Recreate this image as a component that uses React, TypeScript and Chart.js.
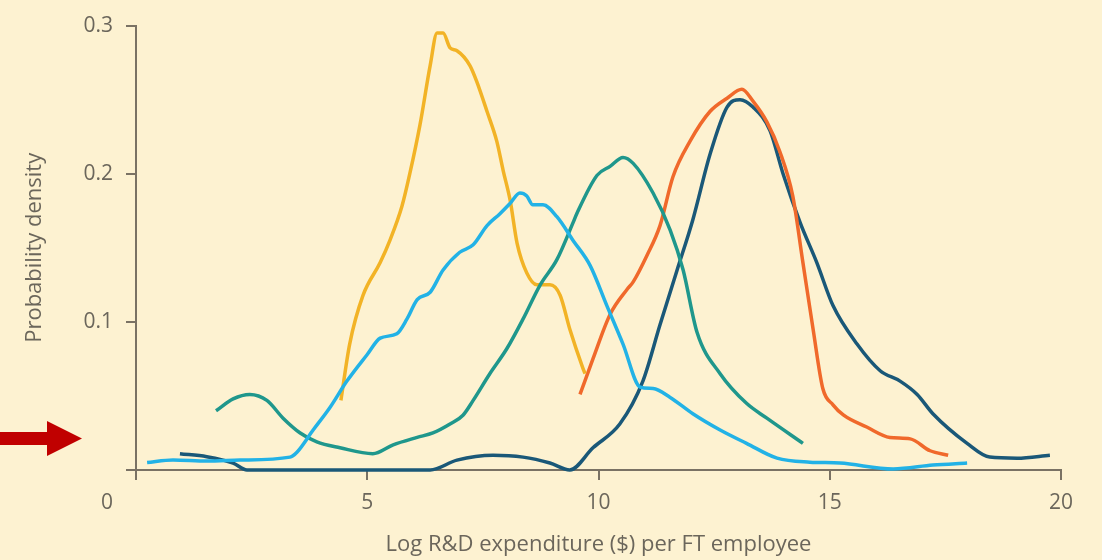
import React, { useEffect, useRef } from 'react';
import { Chart, registerables } from 'chart.js';

Chart.register(...registerables);

// ---- data ----
const yellowX = [4.43, 4.62, 4.91, 5.28, 5.49, 5.75, 5.92, 6.14, 6.36, 6.51, 6.64, 6.79, 6.94, 7.22, 7.37, 7.59, 7.8, 7.94, 8.09, 8.24, 8.45, 8.67, 8.95, 9.17, 9.38, 9.66, 9.71];
const yellowY = [0.047, 0.085, 0.118, 0.14, 0.155, 0.178, 0.2, 0.233, 0.273, 0.295, 0.295, 0.285, 0.283, 0.273, 0.262, 0.242, 0.222, 0.202, 0.182, 0.153, 0.133, 0.125, 0.125, 0.118, 0.095, 0.069, 0.065];

const lightBlueX = [0.24, 0.8, 1.53, 2.25, 3.33, 3.48, 3.83, 4.19, 4.56, 5.0, 5.28, 5.64, 5.86, 6.08, 6.36, 6.64, 7.0, 7.29, 7.59, 7.87, 8.09, 8.3, 8.45, 8.58, 8.8, 9.1, 9.45, 9.82, 10.18, 10.53, 10.9, 11.18, 11.55, 12.04, 12.63, 13.2, 13.86, 14.57, 15.22, 16.37, 17.23, 17.97];
const lightBlueY = [0.005, 0.0067, 0.006, 0.0067, 0.0087, 0.012, 0.027, 0.042, 0.06, 0.078, 0.089, 0.092, 0.102, 0.115, 0.12, 0.135, 0.147, 0.152, 0.165, 0.173, 0.18, 0.187, 0.185, 0.179, 0.179, 0.171, 0.155, 0.138, 0.111, 0.085, 0.056, 0.055, 0.049, 0.038, 0.027, 0.018, 0.008, 0.0053, 0.0047, 0.0007, 0.0033, 0.0047];

const tealX = [1.73, 2.1, 2.46, 2.83, 3.18, 3.55, 3.91, 4.41, 5.12, 5.56, 6.08, 6.42, 6.79, 7.07, 7.29, 7.65, 8.02, 8.37, 8.74, 9.1, 9.45, 9.53, 9.97, 10.25, 10.53, 10.75, 11.18, 11.55, 11.83, 12.13, 12.63, 13.2, 13.64, 14.42];
const tealY = [0.04, 0.048, 0.051, 0.047, 0.035, 0.025, 0.019, 0.015, 0.011, 0.017, 0.022, 0.025, 0.031, 0.037, 0.047, 0.065, 0.082, 0.102, 0.125, 0.142, 0.167, 0.173, 0.199, 0.205, 0.211, 0.207, 0.187, 0.162, 0.135, 0.093, 0.065, 0.045, 0.035, 0.018];

const orangeX = [9.6, 9.88, 10.25, 10.62, 10.75, 11.05, 11.33, 11.61, 11.98, 12.41, 12.78, 13.1, 13.34, 13.64, 13.92, 14.2, 14.42, 14.64, 14.85, 15.07, 15.3, 15.8, 16.3, 16.74, 17.17, 17.56];
const orangeY = [0.051, 0.075, 0.105, 0.122, 0.127, 0.145, 0.165, 0.198, 0.222, 0.242, 0.251, 0.257, 0.249, 0.235, 0.215, 0.185, 0.14, 0.095, 0.055, 0.044, 0.037, 0.029, 0.022, 0.021, 0.013, 0.01];

const darkBlueX = [0.95, 1.53, 2.1, 2.4, 6.36, 6.94, 7.72, 8.37, 8.95, 9.38, 9.88, 10.46, 10.96, 11.33, 11.7, 12.04, 12.41, 12.78, 13.06, 13.34, 13.71, 13.99, 14.36, 14.72, 15.07, 15.59, 16.09, 16.52, 16.89, 17.23, 17.97, 18.46, 19.05, 19.76];
const darkBlueY = [0.011, 0.009, 0.0047, 0, 0, 0.0067, 0.01, 0.0087, 0.0047, 0, 0.015, 0.031, 0.06, 0.098, 0.135, 0.169, 0.213, 0.245, 0.25, 0.245, 0.229, 0.2, 0.167, 0.14, 0.111, 0.085, 0.067, 0.06, 0.051, 0.038, 0.018, 0.0087, 0.008, 0.01];

const xTitle = 'Log R&D expenditure ($) per FT employee';
const yTitle = 'Probability density';

const BG = '#FDF2D1';
const AXIS = '#7a7264';
const TEXT = '#6b665b';
const FONT = "'Open Sans', 'Noto Sans', sans-serif";

function toPoints(xs: number[], ys: number[]) {
  return xs.map((x, i) => ({ x, y: ys[i] }));
}

const extrasPlugin = {
  id: 'extras',
  afterDraw(chart: any) {
    const ctx = chart.ctx;
    ctx.save();
    // shared origin label "0"
    ctx.fillStyle = TEXT;
    ctx.font = `21px ${FONT}`;
    ctx.textAlign = 'center';
    ctx.textBaseline = 'middle';
    ctx.fillText('0', 107, 503);
    // red arrow annotation
    ctx.fillStyle = '#C00000';
    ctx.beginPath();
    ctx.moveTo(0, 432);
    ctx.lineTo(47, 432);
    ctx.lineTo(47, 421);
    ctx.lineTo(82, 438.5);
    ctx.lineTo(47, 456);
    ctx.lineTo(47, 445);
    ctx.lineTo(0, 445);
    ctx.closePath();
    ctx.fill();
    ctx.restore();
  },
};

export default function App() {
  const ref = useRef<HTMLCanvasElement | null>(null);

  useEffect(() => {
    if (!ref.current) return;
    const mk = (xs: number[], ys: number[], color: string) => ({
      data: toPoints(xs, ys),
      borderColor: color,
      backgroundColor: color,
      borderWidth: 3.5,
      pointRadius: 0,
      cubicInterpolationMode: 'monotone' as const,
      fill: false,
      clip: false as any,
    });
    const chart = new Chart(ref.current, {
      type: 'line',
      data: {
        datasets: [
          mk(lightBlueX, lightBlueY, '#22B2E6'),
          mk(tealX, tealY, '#1F978C'),
          mk(yellowX, yellowY, '#F2B326'),
          mk(orangeX, orangeY, '#F0692B'),
          mk(darkBlueX, darkBlueY, '#1A5878'),
        ],
      },
      options: {
        animation: false,
        responsive: true,
        maintainAspectRatio: false,
        layout: { padding: { top: 20, right: 41, left: 0, bottom: 0 } },
        plugins: { legend: { display: false }, tooltip: { enabled: false } },
        scales: {
          x: {
            type: 'linear',
            min: 0,
            max: 20,
            ticks: {
              stepSize: 5,
              color: TEXT,
              font: { family: FONT, size: 21 },
              padding: 10,
              callback: (v: any) => (v === 0 ? '' : String(v)),
            },
            grid: { drawOnChartArea: false, drawTicks: true, tickLength: 10, color: AXIS, lineWidth: 2 },
            border: { color: AXIS, width: 2 },
            title: {
              display: true,
              text: xTitle,
              color: TEXT,
              font: { family: FONT, size: 22 },
              padding: { top: 0, bottom: 2 },
            },
            afterFit: (s: any) => {
              s.height = 90;
            },
          },
          y: {
            type: 'linear',
            min: 0,
            max: 0.3,
            ticks: {
              stepSize: 0.1,
              color: TEXT,
              font: { family: FONT, size: 21 },
              padding: 13,
              callback: (v: any) => (Math.abs(v) < 1e-9 ? '' : Number(v).toFixed(1)),
            },
            grid: { drawOnChartArea: false, drawTicks: true, tickLength: 10, color: AXIS, lineWidth: 2 },
            border: { color: AXIS, width: 2 },
            title: {
              display: true,
              text: yTitle,
              color: TEXT,
              font: { family: FONT, size: 22 },
              padding: { top: 22, bottom: 0 },
            },
            afterFit: (s: any) => {
              s.width = 136;
            },
          },
        },
      },
      plugins: [extrasPlugin],
    });
    return () => chart.destroy();
  }, []);

  return (
    <div style={{ position: 'fixed', left: 0, top: 0, width: 1102, height: 560, background: BG }}>
      <canvas ref={ref} />
    </div>
  );
}
